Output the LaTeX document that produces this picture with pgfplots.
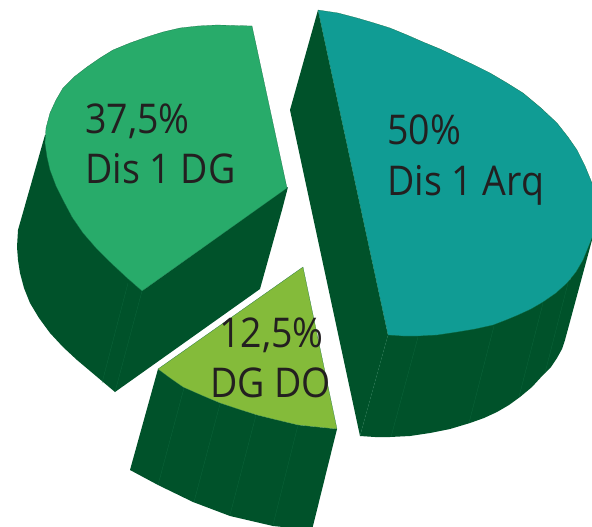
\documentclass[border=0pt]{standalone}
\usepackage{pgfplots}
\pgfplotsset{compat=1.18}
\usepackage{fontspec}
\setmainfont{Open Sans}
\definecolor{teal1}{HTML}{109C94}
\definecolor{green1}{HTML}{28AB6A}
\definecolor{lime1}{HTML}{84BB3A}
\definecolor{dark1}{HTML}{00522A}
\definecolor{seam}{HTML}{106A40}
\definecolor{txt}{HTML}{231F20}
\tikzset{lab/.style={anchor=base west,text=txt,font=\fontsize{41}{41}\selectfont,inner sep=0pt,xscale=0.915}}
\begin{document}
\begin{tikzpicture}
\begin{axis}[scale only axis,width=592pt,height=527pt,xmin=0,xmax=592,ymin=0,ymax=527,y dir=reverse,hide axis]
\path (axis cs:0,0) rectangle (axis cs:592,527);
% teal slice side faces
\addplot[fill=dark1,draw=none] coordinates {(318,10)(290,110)(360,436)(388,335)} -- cycle;
\addplot[fill=dark1,draw=none] coordinates {(388,335)(360,436)(375,437)(390,437)(410,436)(430,433)(450,429)(470,423)(484,418)(497,412)(509,405)(520,397)(532,387)(543,375)(551,367)(557,358)(562,349)(565,340)(592,240)(592,225)(570,280)} -- cycle;
\addplot[seam,very thin] coordinates {(388,335)(360,436)};
\addplot[seam,very thin] coordinates {(418,337)(391,437)};
\addplot[seam,very thin] coordinates {(494,326)(469,423)};
\addplot[seam,very thin] coordinates {(543,303)(519,397)};
\addplot[seam,very thin] coordinates {(568,283)(545,373)};
% teal top
\addplot[fill=teal1,draw=seam,very thin] coordinates {(318,10)(338,13)(357,18)(374,23)(390,28)(407,35)(423,42)(440,49)(457,57)(474,65)(490,73)(507,83)(523,93)(541,108)(557,123)(568,137)(577,150)(585,166)(592,183)(600,205)(598,222)(592,238)(583,260)(576,272)(567,283)(556,293)(543,302)(531,309)(518,315)(506,320)(493,325)(475,329)(457,332)(437,335)(418,336)(403,336)(388,335)} -- cycle;
% green slice side
\addplot[fill=dark1,draw=none] coordinates {(45,135)(18,230)(17,247)(18,260)(20,273)(24,288)(30,303)(39,318)(50,333)(63,347)(77,360)(96,376)(115,392)(260,289)(282,210)(288,187)(142,291)(150,150)} -- cycle;
\addplot[seam,very thin] coordinates {(128,283)(102,383)};
\addplot[seam,very thin] coordinates {(142,291)(115,392)};
% green top
\addplot[fill=green1,draw=seam,very thin] coordinates {(252,26)(217,25)(198,26)(180,28)(163,32)(147,37)(130,43)(113,50)(100,58)(87,67)(74,77)(63,88)(56,100)(50,113)(46,128)(45,143)(47,157)(50,170)(56,186)(63,200)(72,217)(83,233)(96,248)(110,262)(126,277)(142,291)(287,188)} -- cycle;
% lime slice side
\addplot[fill=dark1,draw=none] coordinates {(158,369)(130,470)(158,485)(193,502)(230,516)(273,526)(312,530)(337,429)(298,425)(257,415)(220,403)(183,387)} -- cycle;
\addplot[seam,very thin] coordinates {(184,388)(158,485)};
\addplot[seam,very thin] coordinates {(220,404)(194,502)};
\addplot[seam,very thin] coordinates {(256,415)(230,515)};
\addplot[seam,very thin] coordinates {(298,425)(273,525)};
% lime top
\addplot[fill=lime1,draw=seam,very thin] coordinates {(303,267)(158,369)(170,378)(183,387)(201,395)(220,403)(238,409)(257,415)(277,420)(298,425)(317,427)(337,429)} -- cycle;
% labels
\node[lab] at (axis cs:387,144) {50\%};
\node[lab] at (axis cs:387,195) {Dis 1 Arq};
\node[lab] at (axis cs:85,133) {37,5\%};
\node[lab] at (axis cs:85,183) {Dis 1 DG};
\node[lab] at (axis cs:219,347) {12,5\%};
\node[lab] at (axis cs:210,397) {DG DO};
\end{axis}
\end{tikzpicture}
\end{document}
